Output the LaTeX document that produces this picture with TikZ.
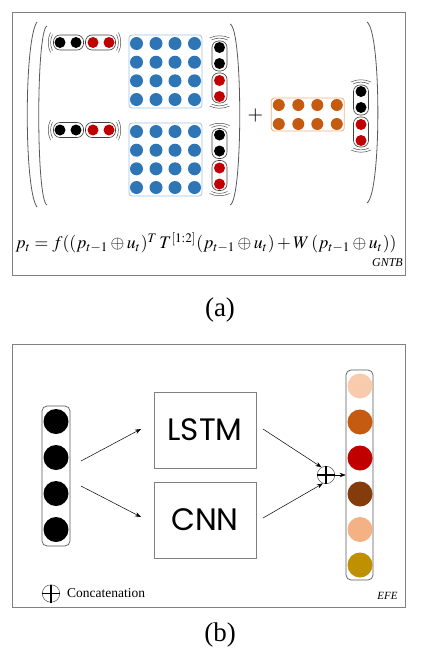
\documentclass[tikz,border=0pt]{standalone}
\usepackage{mathptmx}
\usepackage{graphicx}
\usepackage[no-math]{fontspec}
\setmainfont{Liberation Serif}
\newfontfamily\geofont{Poppins}
\usetikzlibrary{arrows.meta}
\definecolor{vred}{HTML}{C00000}
\definecolor{mblue}{HTML}{2E75B6}
\definecolor{lblue}{HTML}{9DC3E6}
\definecolor{morange}{HTML}{C55A11}
\definecolor{lorange}{HTML}{F4B183}
\definecolor{framegray}{HTML}{808080}
\definecolor{cpeach}{HTML}{F8CBAD}
\definecolor{cbrown}{HTML}{843C0C}
\definecolor{cgold}{HTML}{BF9000}
\tikzset{
 ball/.style={circle, fill=#1, draw=none, minimum size=11pt, inner sep=0pt},
 capsule/.style={draw=black!75, line width=0.6pt, rounded corners=6.5pt},
 bracket/.style={draw=black!70, line width=0.5pt},
 paren/.style={draw=black!65, line width=0.8pt},
 frame/.style={draw=framegray, line width=0.9pt, minimum width=393pt, minimum height=263pt, inner sep=0pt},
 netbox/.style={draw=framegray, line width=0.8pt, minimum width=102pt, minimum height=76pt, inner sep=0pt, font=\geofont\fontsize{31}{31}\selectfont},
 arr/.style={-{Stealth[length=6pt,width=4.5pt]}, line width=0.5pt},
 opl/.style={circle, draw=black!70, line width=0.5pt, minimum size=17.5pt, inner sep=0pt},
}
% vector of 2 black + 2 red dots with double brackets
\newcommand\mydotvec[4]{% name, x, y, rotation
 \begin{scope}[shift={(#2,#3)}, rotate=#4]
  \foreach \xx/\cc [count=\k] in {-24.5/black,-8.5/black,8.5/vred,24.5/vred}
    \node[ball=\cc] (#1d\k) at (\xx,0) {};
  \draw[capsule] (-31,-7.5) rectangle (-1,7.5);
  \draw[capsule] (1,-7.5) rectangle (31,7.5);
  \draw[bracket] (-32,-8) .. controls (-34.5,-3) and (-34.5,3) .. (-32,8);
  \draw[bracket] (-34,-10) .. controls (-37,-4) and (-37,4) .. (-34,10);
  \draw[bracket] (32,-8) .. controls (34.5,-3) and (34.5,3) .. (32,8);
  \draw[bracket] (34,-10) .. controls (37,-4) and (37,4) .. (34,10);
 \end{scope}}
\begin{document}
\begin{tikzpicture}[x=1pt,y=-1pt]
\useasboundingbox (0,0) rectangle (429,659);
% ---------------- panel (a)
\node[frame] (fa) at (208.5,143.5) {};
% parentheses
\draw[paren] (37,22) .. controls (24,40) and (24,190) .. (37,207);
\draw[paren] (47,26) .. controls (36,30) and (36,201) .. (47,205);
\draw[paren] (230,24) .. controls (243,28) and (243,201) .. (230,205);
\draw[paren] (367,22) .. controls (381.5,32) and (381.5,193) .. (367,203);
% row vectors
\mydotvec{ra}{84.5}{42.5}{0}
\mydotvec{rb}{84.5}{130}{0}
% blue matrices
\node[draw=lblue, line width=0.8pt, rounded corners=3pt, minimum width=73pt, minimum height=73pt, inner sep=0pt] (ma) at (165.5,71.5) {};
\foreach \dx [count=\i] in {-29,-9.5,9.5,29}
  \foreach \dy [count=\j] in {-28,-9.3,9.3,28}
    \node[ball=mblue, minimum size=13pt] (ma-\i-\j) at (165.5+\dx,71.5+\dy) {};
\node[draw=lblue, line width=0.8pt, rounded corners=3pt, minimum width=73pt, minimum height=73pt, inner sep=0pt] (mb) at (165.5,159.5) {};
\foreach \dx [count=\i] in {-29,-9.5,9.5,29}
  \foreach \dy [count=\j] in {-28,-9.3,9.3,28}
    \node[ball=mblue, minimum size=13pt] (mb-\i-\j) at (165.5+\dx,159.5+\dy) {};
% column vectors
\mydotvec{ca}{219.5}{72}{-90}
\mydotvec{cb}{219.5}{159.5}{-90}
% plus
\node (plus) at (255.5,116) {\fontsize{20}{20}\selectfont $+$};
% orange matrix
\node[draw=lorange, line width=0.8pt, rounded corners=3pt, minimum width=73pt, minimum height=33pt, inner sep=0pt] (mo) at (307.8,114.5) {};
\foreach \dx [count=\i] in {-29,-9.5,9.5,29}
  \foreach \dy [count=\j] in {-9.5,9.5}
    \node[ball=morange, minimum size=12pt] (mo-\i-\j) at (307.8+\dx,114.5+\dy) {};
\mydotvec{cc}{361}{116}{-90}
% formula
\node (eq) at (206,243) {\resizebox{381pt}{!}{$p_t = f((p_{t-1}\oplus u_t)^T\, T^{[1:2]}(p_{t-1}\oplus u_t)+W\,(p_{t-1}\oplus u_t))$}};
\node[anchor=east, inner sep=0pt, font=\itshape\fontsize{12}{12}\selectfont] (gntb) at (403,263) {GNTB};
\node[font=\fontsize{27}{27}\selectfont] (la) at (220,310) {(a)};
% ---------------- panel (b)
\node[frame] (fb) at (208.5,475.5) {};
% input vector
\node[draw=black!65, line width=0.7pt, rounded corners=5pt, minimum width=28pt, minimum height=140pt, inner sep=0pt] (inv) at (56,476) {};
\foreach \yy [count=\k] in {421.5,457.5,493.5,529.5}
  \node[ball=black, minimum size=25pt] (in\k) at (56,\yy) {};
% boxes
\node[netbox] (lstm) at (205,430) {LSTM};
\node[netbox] (cnn) at (205,520) {CNN};
% output vector
\node[draw=black!65, line width=0.7pt, rounded corners=5pt, minimum width=27pt, minimum height=210pt, inner sep=0pt] (outv) at (359.5,475) {};
\foreach \yy/\cc [count=\k] in {386/cpeach,422/morange,458/vred,494/cbrown,529.5/lorange,565/cgold}
  \node[ball=\cc, minimum size=25pt] (out\k) at (360,\yy) {};
% concatenation
\node[opl] (op) at (326,475) {};
\draw[line width=1.8pt] (op.north) -- (op.south) (op.west) -- (op.east);
% arrows
\coordinate (a1s) at (81,461);
\coordinate (a1e) at (141,429);
\coordinate (a2s) at (81,486);
\coordinate (a2e) at (141,517);
\coordinate (l1s) at (263,429);
\coordinate (c1s) at (263,518);
\draw[arr] (a1s) -- (a1e);
\draw[arr] (a2s) -- (a2e);
\draw[arr] (l1s) -- (op.120);
\draw[arr] (c1s) -- (op.250);
\draw[arr] (op.east) -- (op.east -| outv.west);
% legend
\node[opl] (lop) at (51,593.5) {};
\draw[line width=1.8pt] (lop.north) -- (lop.south) (lop.west) -- (lop.east);
\node[anchor=west, inner sep=0pt, font=\fontsize{13.5}{13.5}\selectfont] (ltxt) at (67,593) {Concatenation};
\node[anchor=east, font=\itshape\fontsize{11}{11}\selectfont] (efe) at (401,596) {EFE};
\node[font=\fontsize{27}{27}\selectfont] (lb) at (220,635) {(b)};
\end{tikzpicture}
\end{document}
